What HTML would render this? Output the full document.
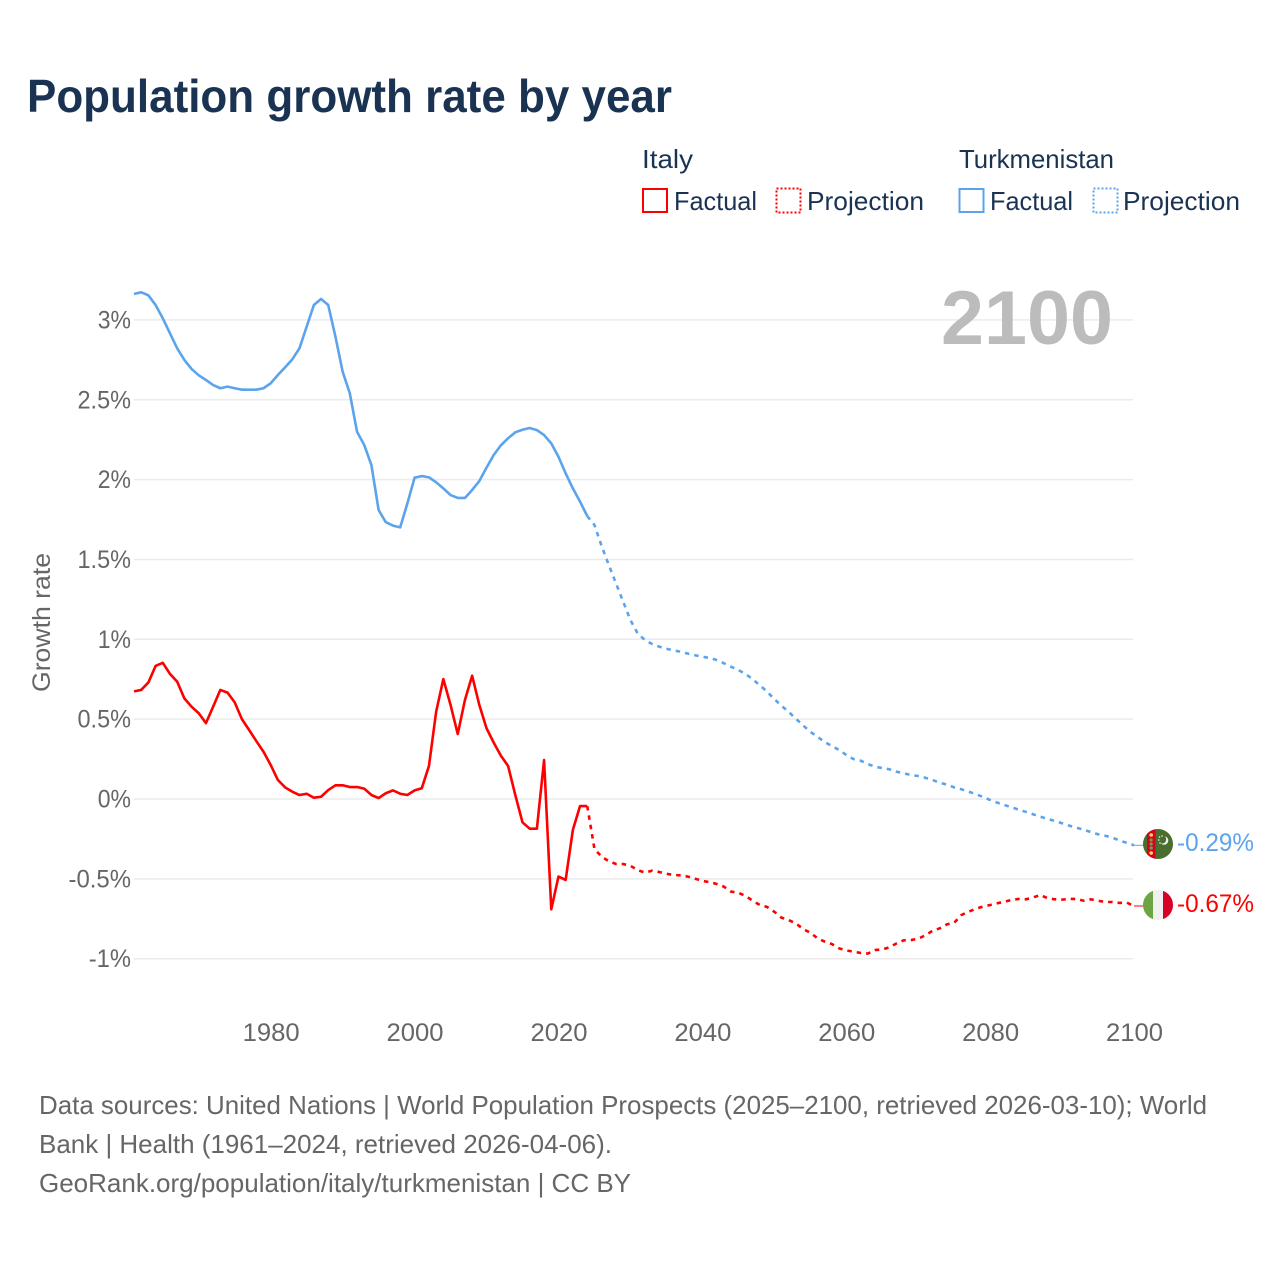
<!DOCTYPE html>
<html lang="en">
<head>
<meta charset="utf-8">
<title>Population growth rate by year</title>
<style>
html,body{margin:0;padding:0;background:#fff;}
svg{display:block;}
text{font-family:"Liberation Sans",sans-serif;}
</style>
</head>
<body>
<svg id="chart" xmlns="http://www.w3.org/2000/svg" width="1280" height="1280" viewBox="0 0 1280 1280">
  <rect x="0" y="0" width="1280" height="1280" fill="#ffffff"/>
  <text x="27" y="112" font-size="46" font-weight="700" fill="#1a3353" textLength="645" lengthAdjust="spacingAndGlyphs">Population growth rate by year</text>

  <g font-size="26" fill="#1a3353">
    <text x="642" y="168" textLength="51" lengthAdjust="spacingAndGlyphs">Italy</text>
    <text x="959" y="168" textLength="155" lengthAdjust="spacingAndGlyphs">Turkmenistan</text>
    <g>
      <rect x="643" y="189" width="24" height="23" fill="none" stroke="#ff0000" stroke-width="2"/>
      <text x="674" y="210" textLength="83" lengthAdjust="spacingAndGlyphs">Factual</text>
    </g>
    <g>
      <rect x="776.5" y="188.5" width="24" height="24" fill="none" stroke="#ff0000" stroke-width="2" stroke-dasharray="2 2"/>
      <text x="807" y="210" textLength="117" lengthAdjust="spacingAndGlyphs">Projection</text>
    </g>
    <g>
      <rect x="959.5" y="189" width="24" height="23" fill="none" stroke="#5ba4ec" stroke-width="2"/>
      <text x="990" y="210" textLength="83" lengthAdjust="spacingAndGlyphs">Factual</text>
    </g>
    <g>
      <rect x="1093.5" y="188.5" width="24" height="24" fill="none" stroke="#5ba4ec" stroke-width="2" stroke-dasharray="2 2"/>
      <text x="1123" y="210" textLength="117" lengthAdjust="spacingAndGlyphs">Projection</text>
    </g>
  </g>

  <g id="grid"></g>
  <g id="y-ticks"></g>
  <g id="x-ticks"></g>
  <text transform="translate(50,692) rotate(-90)" font-size="25" fill="#666666" textLength="139" lengthAdjust="spacingAndGlyphs">Growth rate</text>
  <text id="year-watermark" x="941" y="344" font-size="76" font-weight="700" fill="#bcbcbc" textLength="172" lengthAdjust="spacingAndGlyphs"></text>

  <g id="series"></g>

  <defs>
    <clipPath id="clip-tm"><circle cx="1158" cy="844" r="15"/></clipPath>
    <clipPath id="clip-it"><circle cx="1158" cy="905" r="15"/></clipPath>
  </defs>
  <g clip-path="url(#clip-tm)">
    <rect x="1143" y="829" width="30" height="30" fill="#496e2d"/>
    <rect x="1147" y="829" width="8.5" height="30" fill="#d80027"/>
    <circle cx="1151.2" cy="835" r="1.8" fill="#ffda44"/>
    <circle cx="1151.2" cy="840" r="1.6" fill="#6da544"/>
    <circle cx="1151.2" cy="844" r="1.6" fill="#6da544"/>
    <circle cx="1151.2" cy="848" r="1.6" fill="#6da544"/>
    <circle cx="1151.2" cy="853" r="1.8" fill="#ffda44"/>
    <circle cx="1164" cy="840.5" r="4.3" fill="#f0f0f0"/>
    <circle cx="1162.2" cy="839.5" r="4" fill="#496e2d"/>
    <circle cx="1159.5" cy="837" r="0.8" fill="#f0f0f0"/>
    <circle cx="1162" cy="836" r="0.8" fill="#f0f0f0"/>
    <circle cx="1158.8" cy="840" r="0.8" fill="#f0f0f0"/>
    <circle cx="1160" cy="843" r="0.8" fill="#f0f0f0"/>
  </g>
  <g clip-path="url(#clip-it)">
    <rect x="1143" y="890" width="10" height="30" fill="#6da544"/>
    <rect x="1153" y="890" width="10" height="30" fill="#f0f0f0"/>
    <rect x="1163" y="890" width="10" height="30" fill="#d80027"/>
  </g>
  <text id="end-label-turkmenistan" x="1177" y="851" font-size="25" fill="#5ba4ec" textLength="77" lengthAdjust="spacingAndGlyphs"></text>
  <text id="end-label-italy" x="1177" y="912" font-size="25" fill="#ff0000" textLength="77" lengthAdjust="spacingAndGlyphs"></text>

  <g font-size="26" fill="#666666">
    <text x="39" y="1114" textLength="1168" lengthAdjust="spacingAndGlyphs">Data sources: United Nations | World Population Prospects (2025–2100, retrieved 2026-03-10); World</text>
    <text x="39" y="1153" textLength="573" lengthAdjust="spacingAndGlyphs">Bank | Health (1961–2024, retrieved 2026-04-06).</text>
    <text x="39" y="1192" textLength="592" lengthAdjust="spacingAndGlyphs">GeoRank.org/population/italy/turkmenistan | CC BY</text>
  </g>
</svg>
<script>
const years = [1961,1962,1963,1964,1965,1966,1967,1968,1969,1970,1971,1972,1973,1974,1975,1976,1977,1978,1979,1980,
1981,1982,1983,1984,1985,1986,1987,1988,1989,1990,1991,1992,1993,1994,1995,1996,1997,1998,1999,2000,
2001,2002,2003,2004,2005,2006,2007,2008,2009,2010,2011,2012,2013,2014,2015,2016,2017,2018,2019,2020,
2021,2022,2023,2024,2025,2026,2027,2028,2029,2030,2031,2032,2033,2034,2035,2036,2037,2038,2039,2040,
2041,2042,2043,2044,2045,2046,2047,2048,2049,2050,2051,2052,2053,2054,2055,2056,2057,2058,2059,2060,
2061,2062,2063,2064,2065,2066,2067,2068,2069,2070,2071,2072,2073,2074,2075,2076,2077,2078,2079,2080,
2081,2082,2083,2084,2085,2086,2087,2088,2089,2090,2091,2092,2093,2094,2095,2096,2097,2098,2099,2100];
const lastFactualYear = 2024;
const italyGrowth = [0.674,0.683,0.73,0.833,0.853,0.783,0.735,0.63,0.578,0.537,0.475,0.578,0.683,0.666,0.605,0.5,0.432,0.363,0.296,0.213,
0.119,0.073,0.046,0.025,0.033,0.008,0.014,0.056,0.086,0.086,0.075,0.075,0.065,0.025,0.006,0.036,0.054,0.033,0.025,0.054,
0.067,0.207,0.547,0.751,0.589,0.407,0.62,0.772,0.589,0.443,0.353,0.271,0.207,0.025,-0.146,-0.186,-0.186,0.244,-0.691,-0.486,
-0.507,-0.194,-0.044,-0.044,-0.313,-0.361,-0.39,-0.407,-0.407,-0.418,-0.445,-0.461,-0.449,-0.457,-0.468,-0.476,-0.478,-0.486,-0.499,-0.513,
-0.52,-0.532,-0.549,-0.58,-0.587,-0.607,-0.637,-0.664,-0.676,-0.706,-0.743,-0.758,-0.779,-0.814,-0.837,-0.872,-0.893,-0.908,-0.935,-0.948,
-0.956,-0.964,-0.968,-0.946,-0.942,-0.929,-0.904,-0.885,-0.883,-0.875,-0.854,-0.825,-0.81,-0.785,-0.775,-0.727,-0.706,-0.687,-0.674,-0.664,
-0.653,-0.643,-0.632,-0.626,-0.628,-0.616,-0.601,-0.622,-0.628,-0.63,-0.626,-0.626,-0.637,-0.628,-0.637,-0.645,-0.645,-0.651,-0.649,-0.67];
const turkmenistanGrowth = [3.162,3.173,3.154,3.093,3.01,2.916,2.822,2.749,2.693,2.653,2.624,2.592,2.572,2.582,2.572,2.563,2.563,2.563,2.572,2.603,
2.655,2.703,2.753,2.822,2.958,3.093,3.131,3.093,2.895,2.676,2.54,2.3,2.217,2.091,1.81,1.733,1.712,1.701,1.851,2.012,
2.022,2.014,1.983,1.945,1.903,1.885,1.885,1.935,1.991,2.075,2.154,2.215,2.259,2.296,2.312,2.323,2.31,2.279,2.227,2.143,
2.039,1.945,1.862,1.772,1.716,1.584,1.465,1.35,1.235,1.121,1.037,0.996,0.971,0.954,0.941,0.931,0.922,0.91,0.9,0.891,
0.883,0.87,0.85,0.828,0.808,0.783,0.75,0.712,0.672,0.626,0.584,0.545,0.503,0.461,0.421,0.39,0.357,0.332,0.307,0.276,
0.25,0.24,0.219,0.202,0.194,0.186,0.171,0.161,0.15,0.144,0.133,0.119,0.102,0.09,0.073,0.061,0.046,0.031,0.013,-0.006,
-0.023,-0.038,-0.052,-0.067,-0.081,-0.096,-0.111,-0.125,-0.138,-0.152,-0.167,-0.18,-0.192,-0.207,-0.221,-0.23,-0.242,-0.261,-0.274,-0.29];
const yTickValues = [-1,-0.5,0,0.5,1,1.5,2,2.5,3];
const xTickValues = [1980,2000,2020,2040,2060,2080,2100];

const SVG_NS = 'http://www.w3.org/2000/svg';
const plotLeft = 134, plotRight = 1134;
const xScale = function (year) {
  const first = years[0], last = years[years.length - 1];
  return plotLeft + (year - first) * (plotRight - plotLeft) / (last - first);
};
const yScale = function (value) {
  return 799 - value * 159.7;
};
const tickLabelWidth = function (label) {
  let width = 0;
  for (const ch of label) {
    width += ch === '%' ? 19 : ch === '.' ? 6 : ch === '-' ? 9 : 14.25;
  }
  return width;
};
const linePath = function (values, firstYear, lastYear) {
  let d = '';
  years.forEach(function (year, i) {
    if (year < firstYear || year > lastYear) return;
    d += (d ? 'L' : 'M') + xScale(year).toFixed(2) + ' ' + yScale(values[i]).toFixed(2);
  });
  return d;
};

const gridGroup = document.getElementById('grid');
const yTickGroup = document.getElementById('y-ticks');
const xTickGroup = document.getElementById('x-ticks');
const seriesGroup = document.getElementById('series');

yTickValues.forEach(function (value) {
  const line = document.createElementNS(SVG_NS, 'line');
  
  
  line.setAttribute('x1', plotLeft);
  line.setAttribute('x2', plotRight - 1);
  line.setAttribute('y1', yScale(value));
  line.setAttribute('y2', yScale(value));
  line.setAttribute('stroke', '#ebebeb');
  line.setAttribute('stroke-width', '1.5');
  gridGroup.appendChild(line);

  const label = document.createElementNS(SVG_NS, 'text');
  const labelText = value + '%';
  
  
  label.setAttribute('x', 131 - tickLabelWidth(labelText));
  label.setAttribute('y', yScale(value) + 8.5);
  label.setAttribute('font-size', '25');
  label.setAttribute('fill', '#666666');
  label.setAttribute('textLength', tickLabelWidth(labelText));
  label.setAttribute('lengthAdjust', 'spacingAndGlyphs');
  label.textContent = labelText;
  yTickGroup.appendChild(label);
});

xTickValues.forEach(function (year) {
  const label = document.createElementNS(SVG_NS, 'text');
  const labelText = String(year);
  const width = tickLabelWidth(labelText);
  
  
  label.setAttribute('x', xScale(year) + 0.5 - width / 2);
  label.setAttribute('y', 1041);
  label.setAttribute('font-size', '25');
  label.setAttribute('fill', '#666666');
  label.setAttribute('textLength', width);
  label.setAttribute('lengthAdjust', 'spacingAndGlyphs');
  label.textContent = labelText;
  xTickGroup.appendChild(label);
});

const lastYear = years[years.length - 1];

const turkFactualLine = document.createElementNS(SVG_NS, 'path');


turkFactualLine.setAttribute('d', linePath(turkmenistanGrowth, years[0], lastFactualYear));
turkFactualLine.setAttribute('fill', 'none');
turkFactualLine.setAttribute('stroke', '#5ba4ec');
turkFactualLine.setAttribute('stroke-width', '2.6');
turkFactualLine.setAttribute('stroke-linejoin', 'round');
seriesGroup.appendChild(turkFactualLine);

const turkProjectionLine = document.createElementNS(SVG_NS, 'path');


turkProjectionLine.setAttribute('d', linePath(turkmenistanGrowth, lastFactualYear, lastYear));
turkProjectionLine.setAttribute('fill', 'none');
turkProjectionLine.setAttribute('stroke', '#5ba4ec');
turkProjectionLine.setAttribute('stroke-width', '2.6');
turkProjectionLine.setAttribute('stroke-dasharray', '4.5 5');
seriesGroup.appendChild(turkProjectionLine);

const italyFactualLine = document.createElementNS(SVG_NS, 'path');


italyFactualLine.setAttribute('d', linePath(italyGrowth, years[0], lastFactualYear));
italyFactualLine.setAttribute('fill', 'none');
italyFactualLine.setAttribute('stroke', '#ff0000');
italyFactualLine.setAttribute('stroke-width', '2.6');
italyFactualLine.setAttribute('stroke-linejoin', 'round');
seriesGroup.appendChild(italyFactualLine);

const italyProjectionLine = document.createElementNS(SVG_NS, 'path');


italyProjectionLine.setAttribute('d', linePath(italyGrowth, lastFactualYear, lastYear));
italyProjectionLine.setAttribute('fill', 'none');
italyProjectionLine.setAttribute('stroke', '#ff0000');
italyProjectionLine.setAttribute('stroke-width', '2.6');
italyProjectionLine.setAttribute('stroke-dasharray', '4.5 5');
seriesGroup.appendChild(italyProjectionLine);

const turkConnector = document.createElementNS(SVG_NS, 'line');


turkConnector.setAttribute('x1', xScale(lastYear));
turkConnector.setAttribute('x2', 1144);
turkConnector.setAttribute('y1', yScale(turkmenistanGrowth[turkmenistanGrowth.length - 1]));
turkConnector.setAttribute('y2', yScale(turkmenistanGrowth[turkmenistanGrowth.length - 1]));
turkConnector.setAttribute('stroke', '#5ba4ec');
turkConnector.setAttribute('stroke-width', '1');
seriesGroup.appendChild(turkConnector);

const italyConnector = document.createElementNS(SVG_NS, 'line');


italyConnector.setAttribute('x1', xScale(lastYear));
italyConnector.setAttribute('x2', 1144);
italyConnector.setAttribute('y1', yScale(italyGrowth[italyGrowth.length - 1]));
italyConnector.setAttribute('y2', yScale(italyGrowth[italyGrowth.length - 1]));
italyConnector.setAttribute('stroke', '#ff0000');
italyConnector.setAttribute('stroke-width', '1');
seriesGroup.appendChild(italyConnector);

document.getElementById('year-watermark').textContent = String(lastYear);
document.getElementById('end-label-turkmenistan').textContent = turkmenistanGrowth[turkmenistanGrowth.length - 1].toFixed(2) + '%';
document.getElementById('end-label-italy').textContent = italyGrowth[italyGrowth.length - 1].toFixed(2) + '%';
</script>
</body>
</html>
